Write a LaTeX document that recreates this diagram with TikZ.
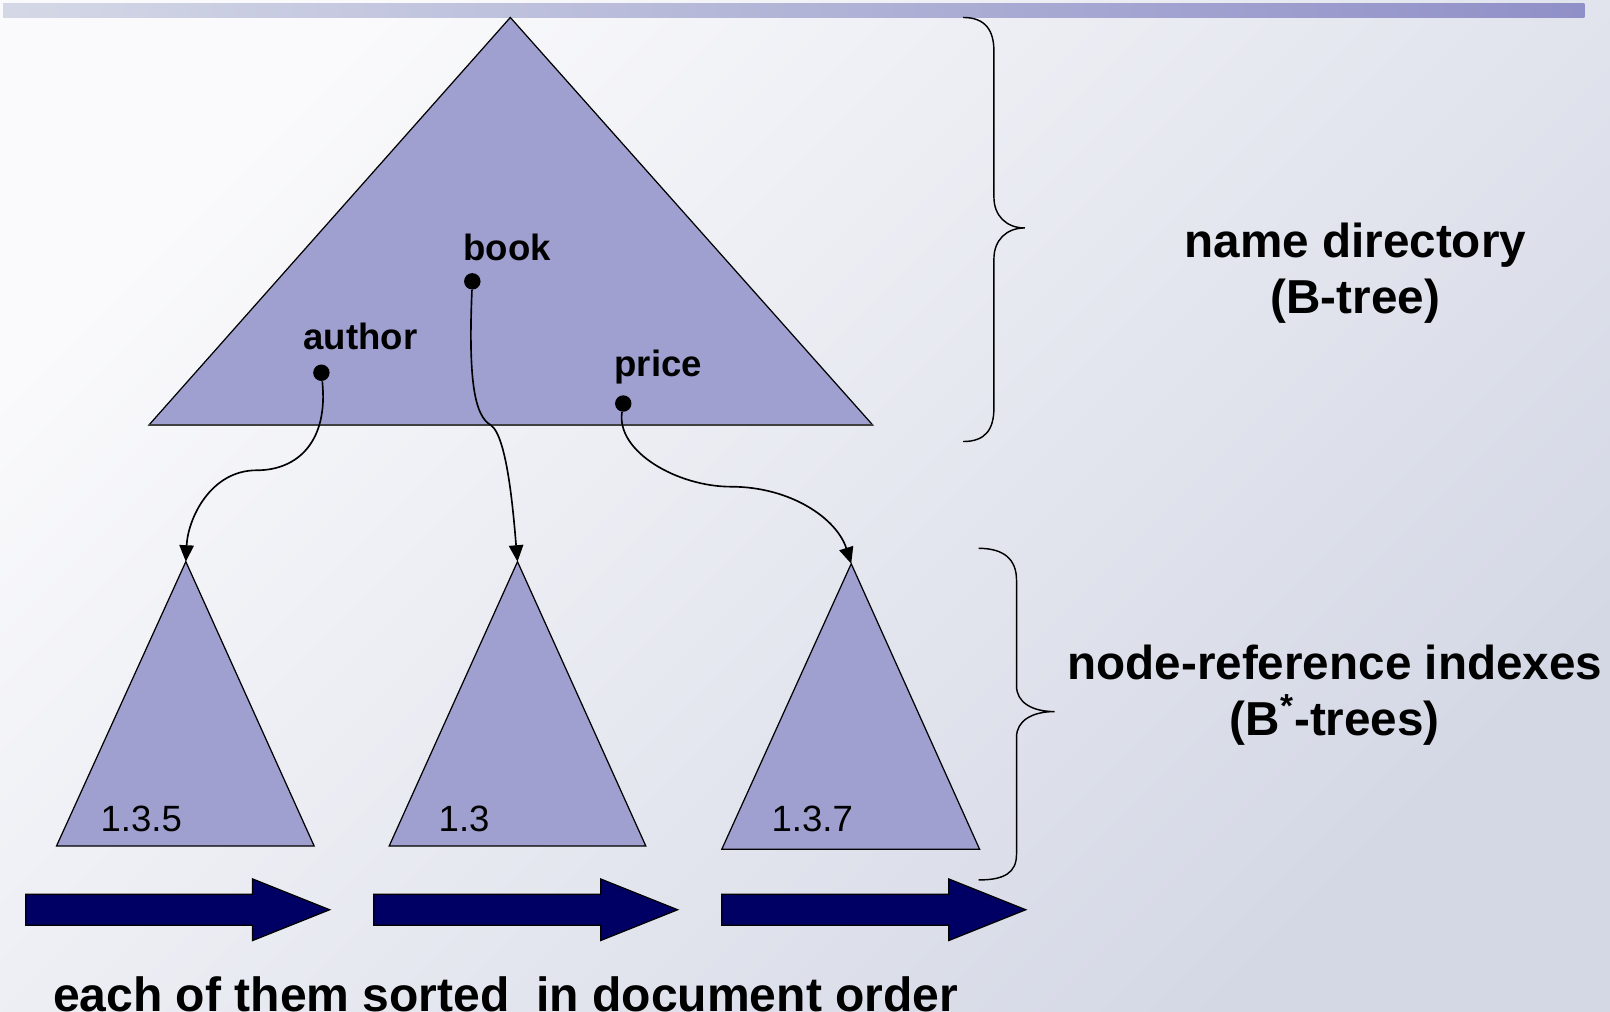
\documentclass[tikz,border=0pt]{standalone}
\usepackage{fontspec}
\setmainfont{Liberation Sans}
\usetikzlibrary{arrows.meta}
\definecolor{trifill}{RGB}{159,160,207}
\definecolor{navy}{RGB}{0,0,100}
\definecolor{bgtop}{RGB}{250,250,252}
\definecolor{bgbot}{RGB}{212,216,229}
\definecolor{barleft}{RGB}{212,216,230}
\definecolor{barright}{RGB}{144,144,200}
\tikzset{
x=0.5pt, y=-0.5pt, % pixel-like units, origin top left
tri/.style={draw=black, fill=trifill, line width=0.6pt}, % the B-tree triangles
dot/.style={circle, fill=black, inner sep=0pt, minimum size=8pt}, % entry points in the directory
key/.style={font=\bfseries\fontsize{17.8}{20}\selectfont, anchor=base},
num/.style={font=\fontsize{17.8}{20}\selectfont, anchor=base},
ptr/.style={-{Triangle[length=8pt,width=7pt]}, line width=0.8pt},
brace/.style={line width=0.7pt},
caption/.style={font=\bfseries\fontsize{23.2}{27.5}\selectfont, align=center},
blockarrow/.style={draw=black, fill=navy, line width=0.6pt},
}

\begin{document}
\begin{tikzpicture}
    % background and title bar
    \useasboundingbox (0,0) rectangle (1568,985.5);
    \clip (0,0) rectangle (1568,985.5);
    \shade[top color=bgtop, bottom color=bgbot, shading angle=45] (0,0) rectangle (1568,985.5);
    \shade[left color=barleft, right color=barright] (3,3) rectangle (1543,17);

    % name directory
    \draw[tri] (497,17) -- (850,414) -- (145,414) -- cycle;
    \draw[line width=1pt, black!75] (145,414) -- (850,414);
    \node[key] (book) at (494,254) {book};
    \node[key] (author) at (351,340) {author};
    \node[key] (price) at (641,367) {price};
    \node[dot] (bookdot) at (460,274) {};
    \node[dot] (authordot) at (313,363) {};
    \node[dot] (pricedot) at (607,393) {};

    % node-reference indexes
    \coordinate (idxauthor) at (181,547);
    \coordinate (idxbook) at (504,547);
    \coordinate (idxprice) at (829,549);
    \draw[tri] (idxauthor) -- (306,824) -- (55,824) -- cycle;
    \draw[tri] (idxbook) -- (629,824) -- (379,824) -- cycle;
    \draw[tri] (idxprice) -- (954,827) -- (703,827) -- cycle;
    \node[num] (n135) at (137.5,810) {1.3.5};
    \node[num] (n13) at (452,810) {1.3};
    \node[num] (n137) at (791,810) {1.3.7};

    % pointers
    \draw[ptr] (authordot) .. controls (320,430) and (290,458) .. (250,458)
        .. controls (205,458) and (183,505) .. (idxauthor);
    \draw[ptr] (bookdot) .. controls (456,370) and (462,405) .. (478,414)
        .. controls (494,425) and (500,500) .. (idxbook);
    \draw[ptr] (pricedot) .. controls (600,440) and (660,474) .. (712,474)
        .. controls (770,474) and (815,505) .. (idxprice);

    % braces
    \draw[brace] (938,17) .. controls (960,17) and (968,30) .. (968,50) -- (968,192)
        .. controls (968,210) and (980,222) .. (998,222)
        .. controls (980,222) and (968,234) .. (968,252) -- (968,397)
        .. controls (968,418) and (960,430) .. (938,430);
    \draw[brace] (953,534) .. controls (978,534) and (990,545) .. (990,565) -- (990,668)
        .. controls (990,684) and (1005,693) .. (1027,693)
        .. controls (1005,693) and (990,702) .. (990,718) -- (990,832)
        .. controls (990,850) and (978,857) .. (953,857);
    \node[caption] (dirlabel) at (1320,266) {name directory\\(B-tree)};
    \node[caption] (idxlabel) at (1300,677) {node-reference indexes\\(B\textsuperscript{*}-trees)};

    % document order
    \foreach \x in {25,364,703}
        \draw[blockarrow] (\x,871) -- ++(221,0) -- ++(0,-15) -- ++(75,30) -- ++(-75,30)
            -- ++(0,-15) -- ++(-221,0) -- cycle;
    \node[font=\bfseries\fontsize{23.4}{28}\selectfont, anchor=base] (order) at (492.5,985)
        {each of them sorted\ \ in document order};
\end{tikzpicture}
\end{document}
